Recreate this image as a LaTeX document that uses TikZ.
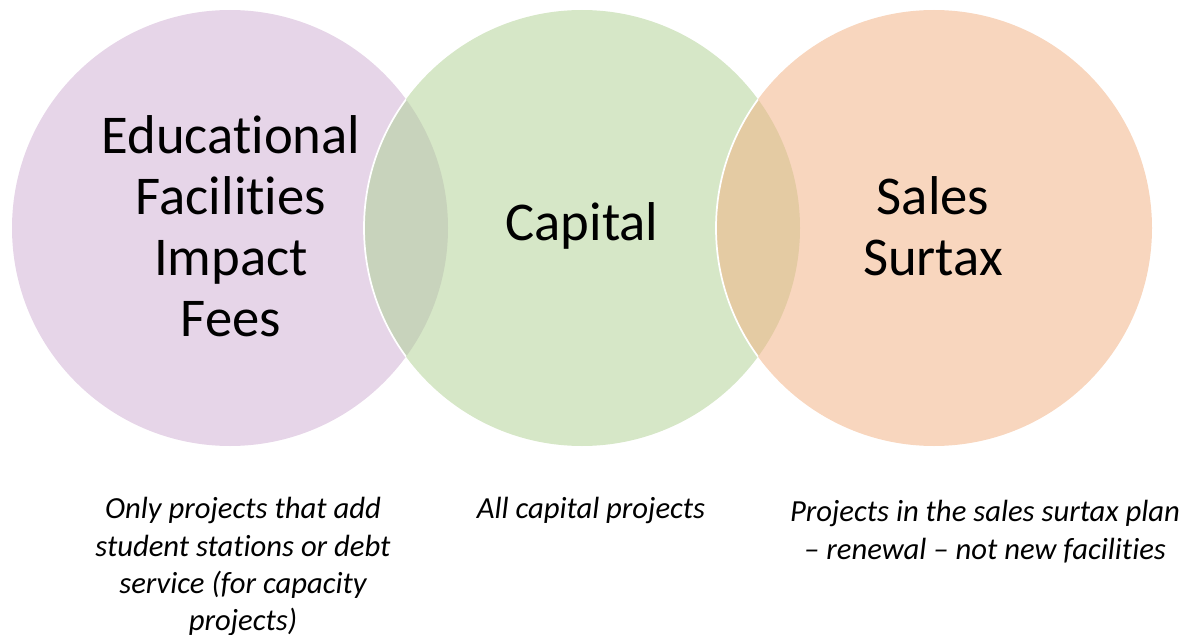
\documentclass[tikz,border=0pt]{standalone}
\usepackage{fontspec}
\setmainfont{Carlito}[Ligatures=NoCommon]
\begin{document}
\begin{tikzpicture}[x=0.75pt,y=-0.75pt,
  big/.style={font=\fontsize{41pt}{45.75pt}\selectfont, align=center, text=black, inner sep=0pt},
  small/.style={font=\fontsize{23pt}{28.1pt}\selectfont\itshape, align=center, text=black, inner sep=0pt, anchor=north}]
\definecolor{cpurple}{HTML}{E6D5E8}
\definecolor{cgreen}{HTML}{D6E7C7}
\definecolor{cpeach}{HTML}{F8D6BE}
\definecolor{cLM}{HTML}{C8D3BC}
\definecolor{cMR}{HTML}{E4CBA3}
\useasboundingbox (0,0) rectangle (1182,635);
\clip (0,0) rectangle (1182,635);
\def\R{218}
\coordinate (cl) at (230,228);
\coordinate (cm) at (582,228);
\coordinate (cr) at (934,228);
\fill[cpurple] (cl) circle (\R);
\fill[cgreen] (cm) circle (\R);
\fill[cpeach] (cr) circle (\R);
\begin{scope}
  \clip (cl) circle (\R);
  \fill[cLM] (cm) circle (\R);
  \draw[white, line width=1.3pt] (cm) circle (\R);
\end{scope}
\begin{scope}
  \clip (cm) circle (\R);
  \fill[cMR] (cr) circle (\R);
  \draw[white, line width=1.3pt] (cr) circle (\R);
\end{scope}
\node[big] (tl) at (231,226) {Educational\\Facilities\\Impact\\Fees};
\node[big] (tm) at (582,226) {Capital};
\node[big] (tr) at (933,226) {Sales\\Surtax};
\node[small] (bl) at (243,497) {Only projects that add\\student stations or debt\\service (for capacity\\projects)};
\node[small] (bm) at (591,497) {All capital projects};
\node[small] (br) at (985,500) {Projects in the sales surtax plan\\– renewal – not new facilities};
\end{tikzpicture}
\end{document}
